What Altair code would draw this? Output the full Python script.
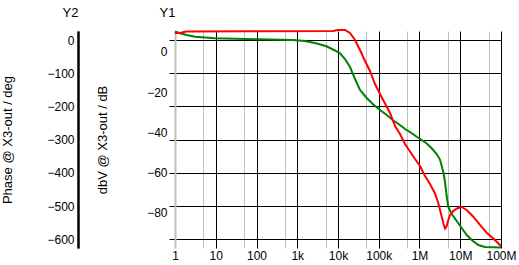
import altair as alt
import pandas as pd

# Magnitude trace (red), frequency in Hz, gain in dB
gain_freq = [1, 1.33, 1.86, 69.2, 7540, 10000, 14860, 19700, 26130, 34660,
             46000, 61000, 80900, 107400, 142300, 188900, 250500, 332000, 440700, 584500,
             776000, 1.03e6, 1.365e6, 1.81e6, 2.40e6, 2.89e6, 3.51e6, 3.88e6, 4.23e6, 4.65e6,
             5.09e6, 5.60e6, 6.75e6, 8.31e6, 1.086e7, 1.44e7, 2.09e7, 3.05e7, 4.46e7, 6.47e7,
             1e8]
gain_db = [9.44, 9.44, 10.19, 10.29, 10.43, 10.93, 10.93, 9.44, 5.96, 0.99,
           -4.47, -9.44, -15.90, -20.87, -25.59, -30.31, -36.77, -40.75, -45.71, -49.44,
           -53.17, -56.65, -61.61, -65.59, -70.31, -75.03, -81.84, -85.47, -87.70, -86.46,
           -83.48, -80.99, -79.01, -77.76, -77.02, -78.51, -81.84, -85.96, -89.79, -92.67,
           -96.40]

# Phase trace (green), frequency in Hz, phase in degrees
phase_freq = [1, 1.33, 1.94, 3.10, 5.45, 9.58, 108.8, 786.6, 1549, 3053,
              5375, 8440, 11190, 14860, 19700, 26130, 34660, 50600, 73450, 107400,
              156700, 227500, 332000, 440700, 584500, 853500, 1.133e6, 1.503e6, 1.99e6, 2.64e6,
              3.18e6, 3.51e6, 3.84e6, 4.23e6, 4.65e6, 5.09e6, 6.17e6, 8.18e6, 1.086e7, 1.44e7,
              1.91e7, 2.77e7, 4.05e7, 1e8]
phase_deg = [25.6, 20.2, 15.1, 9.9, 7.5, 5.1, 2.1, 0, -3.0, -10.5,
             -19.6, -31.6, -40.0, -57.2, -81.3, -117.4, -150.5, -174.6, -194.2, -210.7,
             -225.8, -242.3, -255.9, -267.9, -277.0, -291.1, -301.1, -311.6, -326.0, -343.2,
             -359.8, -379.3, -397.4, -427.5, -469.6, -502.8, -523.8, -544.9, -566.0, -587.0,
             -602.1, -617.2, -623.2, -624.7]

x_ticks = [1, 5, 10, 50, 100, 500, 1e3, 5e3, 1e4, 5e4, 1e5, 5e5, 1e6, 5e6, 1e7, 5e7, 1e8]
db_ticks = [0, -20, -40, -60, -80]
phase_ticks = [0, -100, -200, -300, -400, -500, -600]

FONT = "Liberation Sans"
X_DOMAIN = [1, 1e8]
PHASE_DOMAIN = [-626.1, 27.1]
DB_DOMAIN = [-97.4, 10.43]

gain_df = pd.DataFrame({"f": gain_freq, "db": gain_db})
phase_df = pd.DataFrame({"f": phase_freq, "ph": phase_deg})

grey_test = "indexof([1,5,50,500,5000,50000,500000,5000000,50000000], datum.value) >= 0"

x_axis = alt.Axis(
    values=x_ticks,
    grid=True,
    gridColor={"condition": {"test": grey_test, "value": "#c0c0c0"}, "value": "#000000"},
    gridWidth=1,
    gridOpacity=1,
    ticks=False,
    tickSize=0,
    domain=False,
    labelFont=FONT,
    labelFontSize=12,
    labelColor="#000000",
    labelPadding=2,
    labelFlush=False,
    labelOverlap=False,
    labelExpr=("indexof([5,50,500,5000,50000,500000,5000000,50000000], datum.value) >= 0 ? '' : "
               "datum.value >= 1e6 ? (datum.value/1e6) + 'M' : "
               "datum.value >= 1e3 ? (datum.value/1e3) + 'k' : datum.value + ''"),
    title="Y1",
    titleFont=FONT,
    titleFontSize=13,
    titleFontWeight="normal",
    titleColor="#000000",
    titleAngle=0,
    titleAlign="center",
    titleBaseline="middle",
    titleX=-8,
    titleY=-236,
)

x_enc = alt.X("f:Q", scale=alt.Scale(type="log", domain=X_DOMAIN, nice=False), axis=x_axis)
phase_scale = alt.Scale(domain=PHASE_DOMAIN, nice=False, zero=False)

# Labelled phase axis (Y2) on the far left
phase_line = alt.Chart(phase_df).mark_line(color="#008000", strokeWidth=2).encode(
    x=x_enc,
    y=alt.Y("ph:Q", scale=phase_scale,
            axis=alt.Axis(
                orient="left", offset=97, values=phase_ticks,
                grid=False, ticks=False, tickSize=0,
                domain=True, domainColor="#000000", domainWidth=2,
                labelFont=FONT, labelFontSize=12, labelColor="#000000", labelPadding=4,
                labelOverlap=False,
                title="Phase @ X3-out / deg", titleFont=FONT, titleFontSize=13,
                titleFontWeight="normal", titleColor="#000000", titleAngle=270,
                titleBaseline="middle", titleAlign="center", titleX=-71, titleY=108.5,
            )),
)

# Invisible layer carrying the phase grid + small ticks at the plot edge, and the "Y2" label
phase_grid = alt.Chart(phase_df).mark_line(strokeOpacity=0).encode(
    x=x_enc,
    y=alt.Y("ph:Q", scale=phase_scale,
            axis=alt.Axis(
                orient="left", offset=0, values=phase_ticks,
                grid=True, gridColor="#000000", gridWidth=1, gridOpacity=1,
                ticks=True, tickSize=6, tickColor="#000000", tickWidth=1,
                labels=False, domain=False,
                title="Y2", titleFont=FONT, titleFontSize=13, titleFontWeight="normal",
                titleColor="#000000", titleAngle=0, titleAlign="center",
                titleBaseline="middle", titleX=-105, titleY=-19,
            )),
)

# Invisible layer whose only axis part is the black Y2 axis line
phase_frame = alt.Chart(phase_df).mark_line(strokeOpacity=0).encode(
    x=x_enc,
    y=alt.Y("ph:Q", scale=phase_scale,
            axis=alt.Axis(
                orient="left", offset=97, grid=False, ticks=False, labels=False,
                domain=True, domainColor="#000000", domainWidth=2, title=None,
            )),
)

# dB axis (Y1) at the plot edge
gain_line = alt.Chart(gain_df).mark_line(color="#ff0000", strokeWidth=2).encode(
    x=x_enc,
    y=alt.Y("db:Q",
            scale=alt.Scale(domain=DB_DOMAIN, nice=False, zero=False),
            axis=alt.Axis(
                orient="left", offset=0, values=db_ticks,
                grid=False, ticks=False, tickSize=0,
                domain=True, domainColor="#c0c0c0", domainWidth=2,
                labelFont=FONT, labelFontSize=12, labelColor="#000000", labelPadding=8,
                labelOverlap=False,
                title="dbV @ X3-out / dB", titleFont=FONT, titleFontSize=13,
                titleFontWeight="normal", titleColor="#000000", titleAngle=270,
                titleBaseline="middle", titleAlign="center", titleX=-73, titleY=108.5,
            )),
)

chart = alt.layer(phase_line, phase_grid, gain_line, phase_frame).resolve_scale(
    y="independent"
).resolve_axis(
    y="independent"
).properties(
    width=326,
    height=217,
    autosize="none",
    padding={"left": 175, "top": 31, "right": 18, "bottom": 17},
).configure_view(
    strokeWidth=0
)

chart.save("out.html", embed_options={"renderer": "svg", "actions": False})
